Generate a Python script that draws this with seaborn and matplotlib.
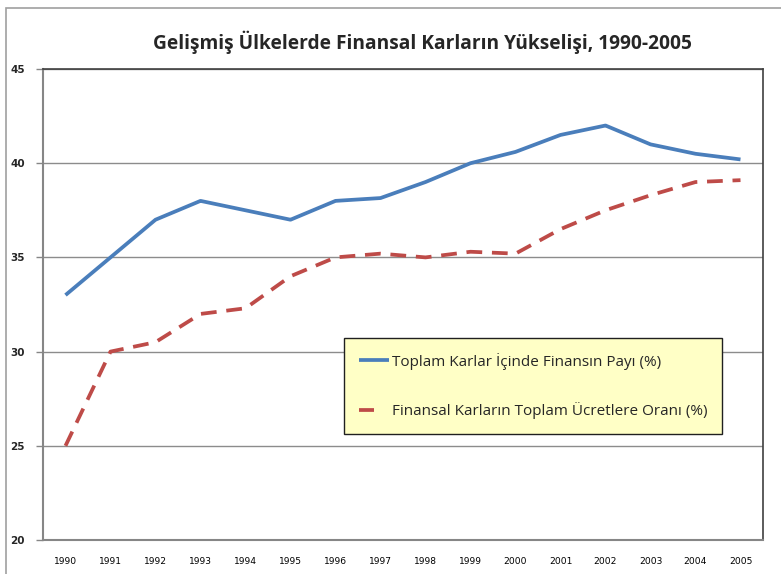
import matplotlib
matplotlib.use("Agg")
import matplotlib.pyplot as plt
import seaborn as sns
import pandas as pd
from matplotlib.patches import Rectangle
from matplotlib.lines import Line2D

years = list(range(1990, 2006))
series_names = ["Toplam Karlar İçinde Finansın Payı (%)",
                "Finansal Karların Toplam Ücretlere Oranı (%)"]
finans_payi = [33.0, 35.0, 37.0, 38.0, 37.5, 37.0, 38.0, 38.15, 39.0, 40.0,
               40.6, 41.5, 42.0, 41.0, 40.5, 40.2]
ucret_orani = [25.0, 30.0, 30.5, 32.0, 32.3, 34.0, 35.0, 35.2, 35.0, 35.3,
               35.2, 36.5, 37.5, 38.3, 39.0, 39.1]
title = "Gelişmiş Ülkelerde Finansal Karların Yükselişi, 1990-2005"
yticks = [20, 25, 30, 35, 40, 45]

df = pd.concat([
    pd.DataFrame({"Yıl": years, "Değer": finans_payi, "Seri": series_names[0]}),
    pd.DataFrame({"Yıl": years, "Değer": ucret_orani, "Seri": series_names[1]}),
])

sns.set_theme(style="white")
plt.rcParams['font.family'] = ['Open Sans', 'DejaVu Sans']

fig = plt.figure(figsize=(7.81, 5.74), dpi=100)
fig.patch.set_facecolor("white")
ax = fig.add_axes([43/781, 1-540/574, 720/781, 471/574])

blue = "#4A7EBB"
red = "#BE4B48"
sns.lineplot(data=df, x="Yıl", y="Değer", hue="Seri", style="Seri",
             palette=[blue, red], dashes=[(1, 0), (4.2, 2.6)],
             linewidth=2.7, ax=ax, legend=False)
for ln in ax.get_lines():
    ln.set_solid_capstyle("round")
    ln.set_dash_capstyle("butt")

ax.set_xlim(1989.5, 2005.5)
ax.set_ylim(20, 45)
ax.set_yticks(yticks)
ax.set_yticklabels([str(v) for v in yticks], fontsize=7.5, fontweight="bold",
                   family=["DejaVu Sans"])
ax.set_xticks(years)
ax.set_xticklabels([str(y) for y in years], fontsize=6.6, family=["DejaVu Sans"])
ax.set_xticks([y - 0.5 for y in years] + [2005.5], minor=True)
ax.tick_params(axis="x", which="major", length=0, pad=12, colors="black")
ax.tick_params(axis="x", which="minor", length=4, color="#868686", width=1)
ax.tick_params(axis="y", which="major", length=5, color="#868686", width=1, pad=8,
               left=True)
ax.set_xlabel("")
ax.set_ylabel("")
ax.yaxis.grid(True, color="#8C8C8C", linewidth=1)
ax.set_axisbelow(True)
for s in ["left", "bottom"]:
    ax.spines[s].set_color("#868686")
    ax.spines[s].set_linewidth(1.5)
for s in ["top", "right"]:
    ax.spines[s].set_color("#404040")
    ax.spines[s].set_linewidth(1.2)

handles = [Line2D([], [], color=blue, linewidth=2.7, solid_capstyle="butt"),
           Line2D([], [], color=red, linewidth=2.7, dashes=(4.0, 10))]
leg = ax.legend(handles, series_names, loc="upper left",
                bbox_to_anchor=((344-43)/720, 1-(338-69)/471),
                frameon=True, fancybox=False, fontsize=11.0,
                handlelength=2.0, handletextpad=0.2, labelspacing=2.15,
                borderpad=0.95, borderaxespad=0)
leg.get_frame().set_facecolor("#FFFFC6")
leg.get_frame().set_edgecolor("#202020")
leg.get_frame().set_linewidth(1.0)
leg.get_frame().set_alpha(1)

fig.text(422/781, 1-42/574, title, ha="center", va="center", fontsize=13.8,
         fontweight="bold", family=["Open Sans", "DejaVu Sans"])

fig.patches.append(Rectangle((6/781, -0.05), 1.2, 1-8/574+0.05,
                             transform=fig.transFigure, fill=False,
                             edgecolor="#A0A0A0", linewidth=1.2))

fig.savefig("out.png", dpi=100)
